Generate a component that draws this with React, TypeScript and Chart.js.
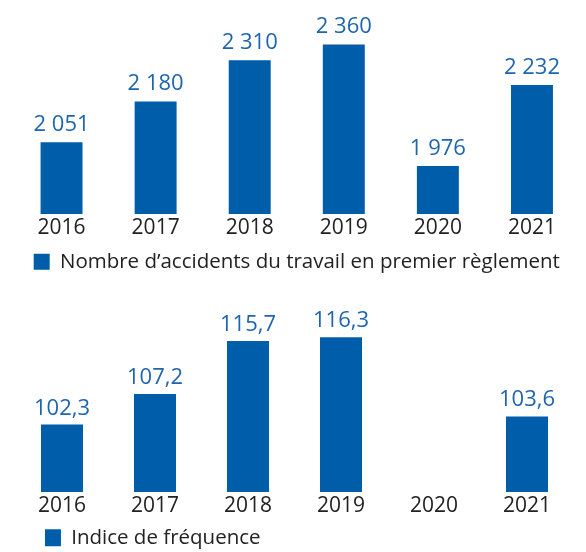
import React, { useEffect, useRef } from 'react';
import { Chart, registerables } from 'chart.js';

Chart.register(...registerables);

const years = ['2016', '2017', '2018', '2019', '2020', '2021'];
const accidents = [2051, 2180, 2310, 2360, 1976, 2232];
const frequency: (number | null)[] = [102.3, 107.2, 115.7, 116.3, null, 103.6];
const accidentsLabel = 'Nombre d’accidents du travail en premier règlement';
const frequencyLabel = 'Indice de fréquence';

const BAR = '#005DA9';
const VALUE = '#1F65AE';
const TEXT = '#222222';
const FONT = "'Open Sans', sans-serif";

const fmtAccidents = (v: number) => v.toString().replace(/\B(?=(\d{3})+(?!\d))/g, ' ');
const fmtFrequency = (v: number) => v.toFixed(1).replace('.', ',');

function valueLabels(fmt: (v: number) => string, gap: number) {
  return {
    id: 'valueLabels',
    afterDatasetsDraw(chart: any) {
      const ctx = chart.ctx;
      const meta = chart.getDatasetMeta(0);
      const data = chart.data.datasets[0].data;
      ctx.save();
      ctx.font = `22px ${FONT}`;
      ctx.fillStyle = VALUE;
      ctx.textAlign = 'center';
      ctx.textBaseline = 'alphabetic';
      meta.data.forEach((el: any, i: number) => {
        const v = data[i];
        if (v == null) return;
        ctx.fillText(fmt(v), el.x, el.y - gap);
      });
      ctx.restore();
    },
  };
}

type Cfg = {
  min: number; max: number; padding: any; legendPadding: number; axisHeight: number;
  boxHeight: number; align: 'start' | 'center'; spacer: boolean; tickPadding: number;
};

function buildOptions(cfg: Cfg) {
  return {
    responsive: false,
    animation: false as const,
    layout: { padding: cfg.padding },
    plugins: {
      legend: {
        position: 'bottom' as const,
        align: cfg.align,
        labels: {
          color: TEXT,
          font: { family: FONT, size: 20.5 },
          boxWidth: 16,
          boxHeight: cfg.boxHeight,
          padding: cfg.legendPadding,
          generateLabels: (chart: any) => {
            const items = Chart.defaults.plugins.legend.labels.generateLabels(chart);
            if (!cfg.spacer) return items;
            return [
              { text: '', fillStyle: 'rgba(0,0,0,0)', strokeStyle: 'rgba(0,0,0,0)', lineWidth: 0, hidden: false, datasetIndex: -1 },
              ...items,
            ];
          },
        },
      },
      tooltip: { enabled: false },
    },
    scales: {
      x: {
        grid: { display: false, drawTicks: false },
        border: { display: false },
        ticks: { color: TEXT, font: { family: FONT, size: 21 }, padding: cfg.tickPadding },
        afterFit: (s: any) => { s.height = cfg.axisHeight; },
      },
      y: { display: false, min: cfg.min, max: cfg.max },
    },
  };
}

type PanelProps = Cfg & {
  width: number; height: number; top: number; values: (number | null)[]; label: string;
  fmt: (v: number) => string; gap: number; barPct: number;
};

function BarPanel(props: PanelProps) {
  const ref = useRef<HTMLCanvasElement>(null);
  useEffect(() => {
    if (!ref.current) return;
    const chart = new Chart(ref.current, {
      type: 'bar',
      data: {
        labels: years,
        datasets: [{
          label: props.label,
          data: props.values,
          backgroundColor: BAR,
          borderColor: BAR,
          borderWidth: 0,
          categoryPercentage: 1,
          barPercentage: props.barPct,
        }],
      },
      options: buildOptions(props) as any,
      plugins: [valueLabels(props.fmt, props.gap)],
    });
    return () => chart.destroy();
  }, []);
  return (
    <canvas
      ref={ref}
      width={props.width}
      height={props.height}
      style={{ position: 'absolute', left: 0, top: props.top, display: 'block' }}
    />
  );
}

export default function App() {
  return (
    <div style={{ position: 'absolute', left: 0, top: 0, width: 586, height: 552, overflow: 'hidden', background: '#fff' }}>
      <BarPanel
        width={586} height={282} top={0}
        values={accidents} label={accidentsLabel} fmt={fmtAccidents} gap={11} barPct={0.446}
        min={1824} max={2450} padding={{ top: 16, left: 14.5, right: 7, bottom: 0 }}
        legendPadding={10} axisHeight={27.5} boxHeight={16} align="center" spacer={false} tickPadding={1.2}
      />
      <BarPanel
        width={586} height={276} top={282}
        values={frequency} label={frequencyLabel} fmt={fmtFrequency} gap={10} barPct={0.452}
        min={91.5} max={122.6} padding={{ top: 16, left: 15.5, right: 12.5, bottom: 0 }}
        legendPadding={1.6} axisHeight={33.95} boxHeight={17} align="start" spacer={true} tickPadding={1.6}
      />
    </div>
  );
}
